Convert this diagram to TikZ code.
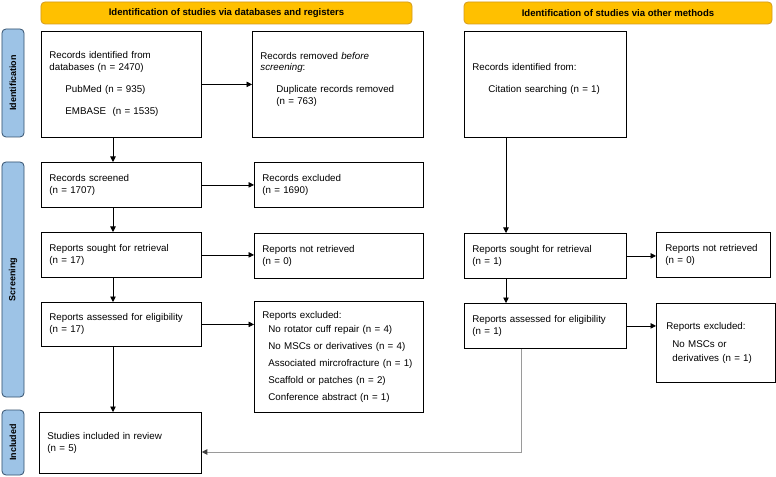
\documentclass[tikz,border=0pt]{standalone}
\usepackage{fontspec}
\setmainfont{Liberation Sans}
\usetikzlibrary{arrows.meta,calc}
\definecolor{bannerfill}{HTML}{FFC000}
\definecolor{bannerdraw}{HTML}{D39B1E}
\definecolor{sidefill}{HTML}{9DC3E6}
\definecolor{sidedraw}{HTML}{34506E}
\definecolor{gline}{HTML}{9A9A9A}
\begin{document}
\begin{tikzpicture}[x=1bp,y=-1bp,
 box/.style={draw=black,line width=0.8bp,fill=white,inner sep=0pt,align=left,anchor=north west,font=\fontsize{9.8}{12}\selectfont},
 banner/.style={draw=bannerdraw,fill=bannerfill,rounded corners=4bp,line width=0.8bp,inner sep=0pt,minimum height=22bp,font=\bfseries\fontsize{9.6}{11}\selectfont},
 side/.style={draw=sidedraw,fill=sidefill,rounded corners=4bp,line width=0.8bp,inner sep=0pt,rotate=90,minimum height=22bp,font=\bfseries\fontsize{9}{11}\selectfont},
 arr/.style={line width=0.7bp,-{Triangle[length=5.5bp,width=5.5bp]}},
 garr/.style={draw=gline,line width=1bp,-{Triangle[length=5.5bp,width=5.5bp,color=black!75]}}]
\useasboundingbox (0,0) rectangle (776,477);
\fill[white] (0,0) rectangle (776,477);

% banners
\node[banner,minimum width=371bp] (bL) at (226.5,13) {Identification of studies via databases and registers};
\node[banner,minimum width=308bp] (bR) at (618,13) {Identification of studies via other methods};

% side labels
\node[side,minimum width=108bp] (sI) at (13,83) {Identification};
\node[side,minimum width=235bp] (sS) at (13,279.5) {Screening};
\node[side,minimum width=65bp] (sN) at (13,442.5) {Included};

% left column
\node[box,minimum width=160bp,minimum height=106bp,text width=144bp] (rid) at (41,31)
 {Records identified from\\databases (n = 2470)\\[10bp]\hspace*{16bp}PubMed (n = 935)\\[10bp]\hspace*{16bp}EMBASE\ \ (n = 1535)};
\node[box,minimum width=171bp,minimum height=106bp,text width=155bp] (rrem) at (252,31)
 {Records removed \textit{before}\\\textit{screening}:\\[10bp]\hspace*{16bp}Duplicate records removed\\\hspace*{16bp}(n = 763)\\\mbox{}};
\node[box,minimum width=160bp,minimum height=45bp,text width=144bp] (rscr) at (41,162)
 {Records screened\\(n = 1707)};
\node[box,minimum width=169bp,minimum height=45bp,text width=153bp] (rexc) at (254,162)
 {Records excluded\\(n = 1690)};
\node[box,minimum width=160bp,minimum height=45bp,text width=144bp] (rsought) at (41,232)
 {Reports sought for retrieval\\(n = 17)};
\node[box,minimum width=169bp,minimum height=45bp,text width=153bp] (rnot) at (254,233)
 {Reports not retrieved\\(n = 0)};
\node[box,minimum width=160bp,minimum height=44bp,text width=144bp] (rass) at (41,302)
 {Reports assessed for eligibility\\(n = 17)};
\node[box,minimum width=169bp,minimum height=111bp,text width=153bp] (rexcl) at (254,301)
 {Reports excluded:\\[3bp]\hspace*{6bp}No rotator cuff repair (n = 4)\\[5bp]\hspace*{6bp}No MSCs or derivatives (n = 4)\\[5bp]\hspace*{6bp}Associated mircrofracture (n = 1)\\[5bp]\hspace*{6bp}Scaffold or patches (n = 2)\\[5bp]\hspace*{6bp}Conference abstract (n = 1)};
\node[box,minimum width=162bp,minimum height=61bp,text width=146bp] (sinc) at (39,412)
 {Studies included in review\\(n = 5)};

% right column
\node[box,minimum width=162bp,minimum height=106bp,text width=146bp] (roth) at (464,31)
 {Records identified from:\\[10bp]\hspace*{16bp}Citation searching (n = 1)\\\mbox{}};
\node[box,minimum width=162bp,minimum height=45bp,text width=146bp] (osought) at (464,233)
 {Reports sought for retrieval\\(n = 1)};
\node[box,minimum width=114bp,minimum height=45bp,text width=96bp] (onot) at (656,232)
 {Reports not retrieved\\(n = 0)};
\node[box,minimum width=162bp,minimum height=45bp,text width=146bp] (oass) at (464,303)
 {Reports assessed for eligibility\\(n = 1)};
\node[box,minimum width=119bp,minimum height=79bp,text width=99bp] (oexcl) at (656,303)
 {Reports excluded:\\[6bp]\hspace*{6bp}No MSCs or\\[2bp]\hspace*{6bp}derivatives (n = 1)};

% connector columns
\coordinate (cL) at (113,0);
\coordinate (cR) at (506,0);
\coordinate (cG) at (521,452);

% connectors
\draw[arr] (rid.east) -- (rrem.west |- rid.east);
\draw[arr] (rid.south -| cL) -- (rscr.north -| cL);
\draw[arr] (rscr.east) -- (rexc.west |- rscr.east);
\draw[arr] (rscr.south -| cL) -- (rsought.north -| cL);
\draw[arr] (rsought.east) -- (rnot.west |- rsought.east);
\draw[arr] (rsought.south -| cL) -- (rass.north -| cL);
\draw[arr] (rass.east) -- (rexcl.west |- rass.east);
\draw[arr] (rass.south -| cL) -- (sinc.north -| cL);

\draw[arr] (roth.south -| cR) -- (osought.north -| cR);
\draw[arr] (osought.east) -- (onot.west |- osought.east);
\draw[arr] (osought.south -| cR) -- (oass.north -| cR);
\draw[arr] (oass.east) -- (oexcl.west |- oass.east);
\draw[garr] (oass.south -| cG) -- (cG) -- (sinc.east |- cG);
\end{tikzpicture}
\end{document}
